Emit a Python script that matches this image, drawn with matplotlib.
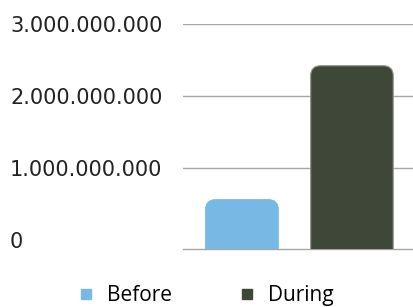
import matplotlib
matplotlib.use("Agg")
from matplotlib import pyplot as plt
from matplotlib.patches import FancyBboxPatch
from matplotlib.lines import Line2D
from matplotlib.ticker import FuncFormatter

categories = ["Before", "During"]
values = [0.56e9, 2.42e9]
colors = ["#77B9E4", "#3F4739"]
edges = ["#77B9E4", "#8A8F86"]
widths = [0.66, 0.75]
yticks = [0, 1e9, 2e9, 3e9]


def fmt(v, pos):
    return f"{int(round(v)):,}".replace(",", ".")


fig = plt.figure(figsize=(4.13, 3.07), dpi=100)
ax = fig.add_axes([183 / 413, 1 - 249 / 307, 230 / 413, 225 / 307])

ymin, ymax = -0.125e9, 3e9
ax.set_ylim(ymin, ymax)
ax.set_xlim(-0.536, 1.555)

xs = list(range(len(categories)))
bars = ax.bar(xs, values, width=widths, color=colors)

# swap plain bars for rounded ones (top corners only, bottom is clipped)
px_x = 1 / 110
px_y = (ymax - ymin) / 225
aspect = px_y / px_x
for b, c, e in zip(bars, colors, edges):
    x0, w, h = b.get_x(), b.get_width(), b.get_height()
    b.remove()
    p = FancyBboxPatch((x0, ymin - 20 * px_y), w, h - ymin + 20 * px_y,
                       boxstyle="round,pad=0,rounding_size=0.09",
                       mutation_aspect=aspect, facecolor=c, edgecolor=e,
                       linewidth=0.8, zorder=3)
    ax.add_patch(p)

ax.set_yticks(yticks)
ax.yaxis.set_major_formatter(FuncFormatter(fmt))
ax.set_xticks([])
ax.tick_params(axis="y", length=0, labelsize=15, pad=124.5, labelcolor="#222222")
for lab in ax.get_yticklabels():
    lab.set_horizontalalignment("left")

ax.grid(axis="y", color="#A6A6A6", linewidth=1)
ax.yaxis.get_major_ticks()[0].gridline.set_visible(False)
ax.set_axisbelow(True)
for s in ["top", "right", "left"]:
    ax.spines[s].set_visible(False)
ax.spines["bottom"].set_color("#A6A6A6")
ax.spines["bottom"].set_linewidth(1)

handles = [Line2D([], [], marker="s", linestyle="none", markersize=7,
                  markerfacecolor=c, markeredgecolor=c) for c in colors]
fig.legend(handles, categories, loc="center", bbox_to_anchor=(0.5, 0.036),
           ncol=2, frameon=False, handlelength=0.6, handletextpad=0.7,
           columnspacing=3.3, prop={"family": "Open Sans", "size": 15})

fig.savefig("out.png", dpi=100)
